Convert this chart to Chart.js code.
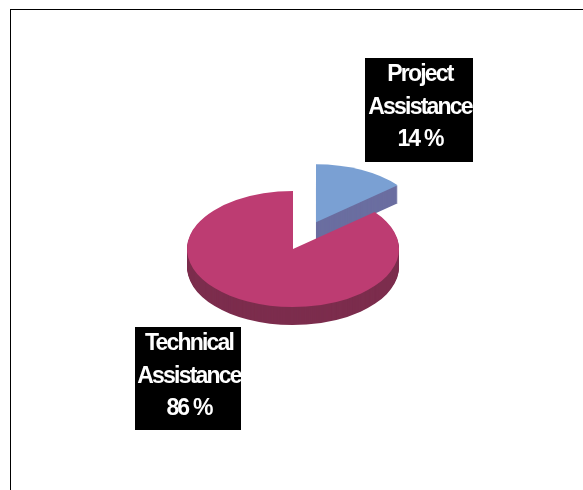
<!DOCTYPE html>
<html>
<head>
<meta charset="utf-8">
<title>Assistance split</title>
<script src="https://cdn.jsdelivr.net/npm/chart.js@4/dist/chart.umd.min.js"></script>
<style>
  html, body { margin: 0; padding: 0; background: #fff; }
  #wrap { position: relative; width: 583px; height: 490px; overflow: hidden; }
  #frame {
    position: absolute; left: 10px; top: 9px; width: 600px; height: 500px;
    border-top: 1px solid #000; border-left: 1px solid #000;
  }
  #pie { position: absolute; left: 0; top: 0; }
  .tag {
    position: absolute; background: #000; color: #fff;
    font-family: "Liberation Sans", Arial, sans-serif; font-weight: bold;
    font-size: 23px; line-height: 32.5px; letter-spacing: -1.8px;
    text-align: center; box-sizing: border-box; padding-top: 0;
  }
  .tag span { display: block; position: relative; top: -1px; left: 1px; }
</style>
</head>
<body>
<div id="wrap">
  <div id="frame"></div>
  <canvas id="pie" width="583" height="490"></canvas>
</div>
<script>
// slices, clockwise from 12 o'clock
const categories = ['Project Assistance', 'Technical Assistance'];
const shares = [14, 86];

const topColors = ['#7aa0d3', '#bd3c72'];
const sideColors = ['#6b6ea0', '#7c2d4d'];
const explode = [54, 0];       // pull-out distance per slice
const TILT = 0.547;            // vertical squash of the disc
const DEPTH = 18;              // thickness in px

const labelBoxes = [
  { left: 365, top: 58, width: 108, height: 104 },
  { left: 135, top: 327, width: 106, height: 103 }
];

// fake 3D: stack darker copies of each arc under the squashed top face
const pie3d = {
  id: 'pie3d',
  beforeDatasetDraw(chart, args) {
    const ctx = chart.ctx;
    const arcs = args.meta.data;
    const cx = arcs[0].x, cy = arcs[0].y;
    for (let d = DEPTH; d >= 0; d--) {
      arcs.forEach((arc, i) => {
        ctx.save();
        ctx.translate(cx, cy + d);
        ctx.scale(1, TILT);
        ctx.translate(-cx, -cy);
        const mid = (arc.startAngle + arc.endAngle) / 2;
        ctx.translate(Math.cos(mid) * explode[i], Math.sin(mid) * explode[i]);
        const opts = arc.options;
        arc.options = Object.assign({}, opts, {
          backgroundColor: d === 0 ? topColors[i] : sideColors[i],
          borderWidth: 0
        });
        arc.draw(ctx);
        arc.options = opts;
        ctx.restore();
      });
    }
    return false;
  }
};

new Chart(document.getElementById('pie'), {
  type: 'pie',
  data: {
    labels: categories,
    datasets: [{
      data: shares,
      backgroundColor: topColors,
      borderWidth: 0
    }]
  },
  options: {
    responsive: false,
    animation: false,
    events: [],
    radius: 106,
    layout: { padding: { left: 3, top: 8 } },
    plugins: {
      legend: { display: false },
      tooltip: { enabled: false }
    }
  },
  plugins: [pie3d]
});

// black value tags
const wrap = document.getElementById('wrap');
categories.forEach((name, i) => {
  const box = labelBoxes[i];
  const tag = document.createElement('div');
  tag.className = 'tag';
  tag.style.left = box.left + 'px';
  tag.style.top = box.top + 'px';
  tag.style.width = box.width + 'px';
  tag.style.height = box.height + 'px';
  const lines = name.split(' ').concat([shares[i] + ' %']);
  tag.innerHTML = '<span>' + lines.join('<br>') + '</span>';
  wrap.appendChild(tag);
});
</script>
</body>
</html>
